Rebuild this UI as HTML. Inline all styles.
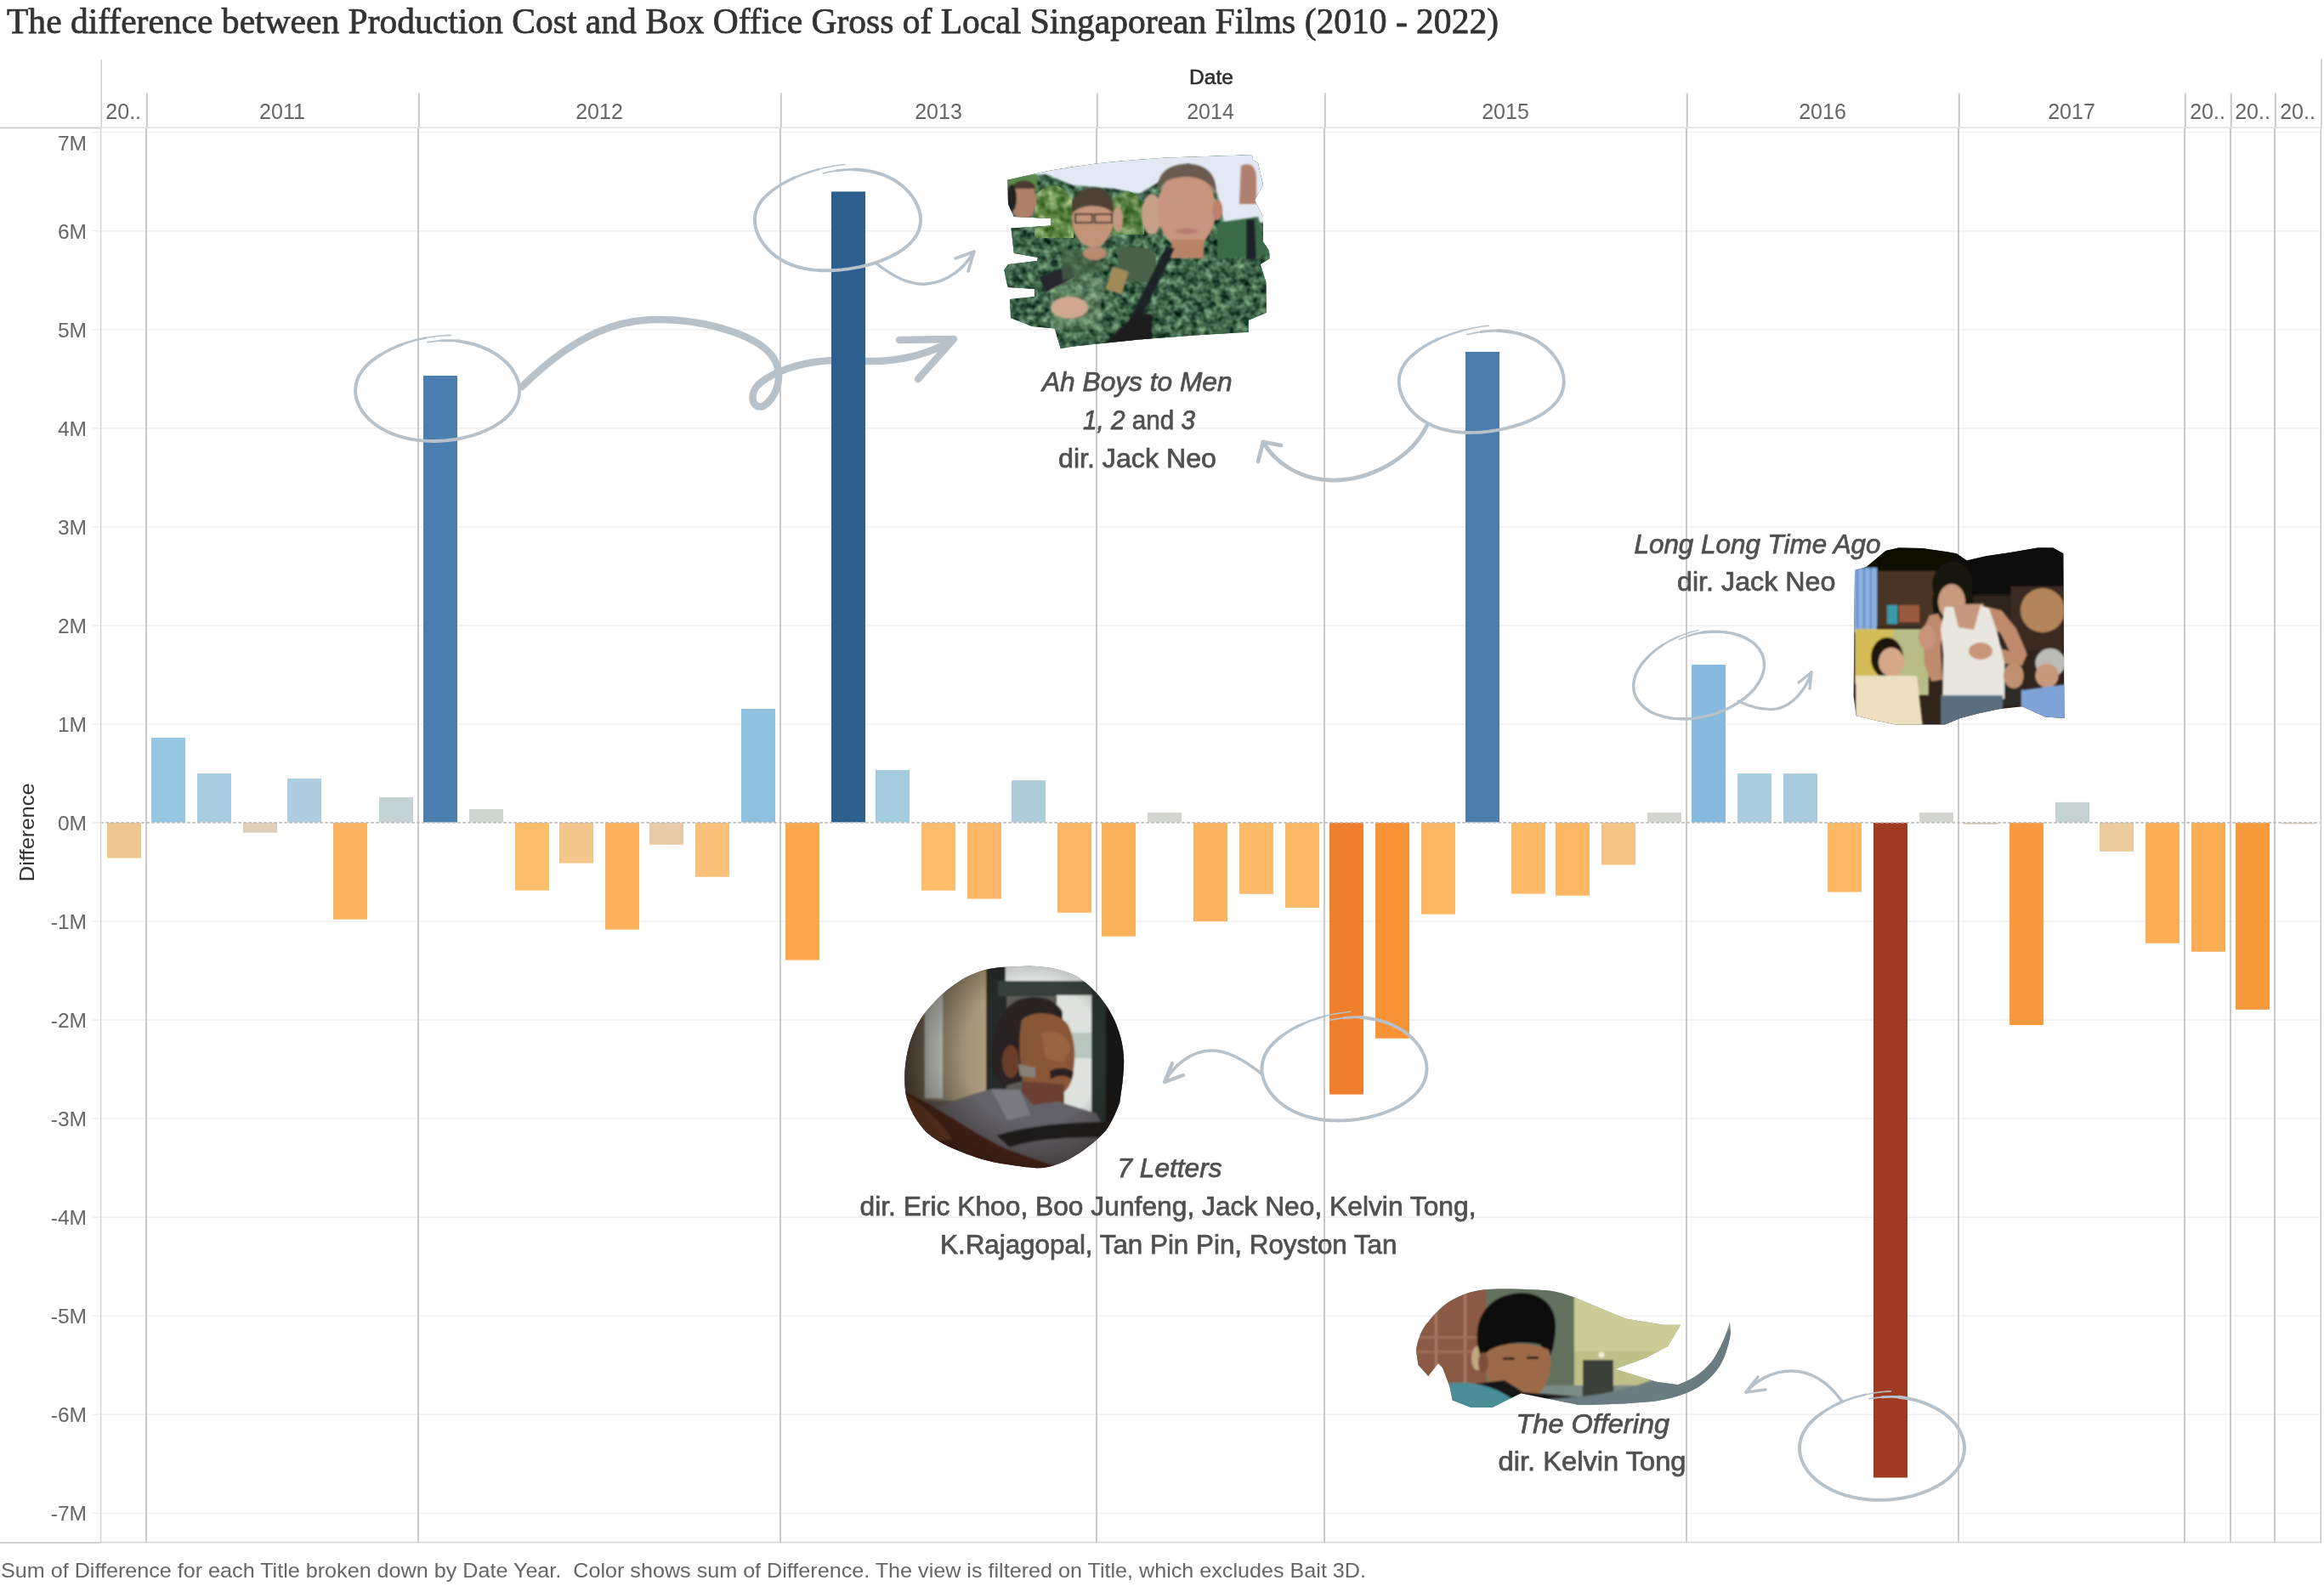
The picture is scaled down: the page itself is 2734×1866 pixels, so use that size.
<!DOCTYPE html>
<html><head><meta charset="utf-8"><title>Singapore films</title>
<style>
html,body{margin:0;padding:0;background:#fff;width:2734px;height:1866px;overflow:hidden}
svg{display:block;will-change:transform}
text{font-family:"Liberation Sans",sans-serif}
.ser{font-family:"Liberation Serif",serif}
</style></head><body>
<svg width="2734" height="1866" viewBox="0 0 2734 1866">
<defs>
<filter id="bl2" x="-10%" y="-10%" width="120%" height="120%"><feGaussianBlur stdDeviation="2"/></filter>
<filter id="bl1" x="-10%" y="-10%" width="120%" height="120%"><feGaussianBlur stdDeviation="1.2"/></filter>
<filter id="bl4" x="-10%" y="-10%" width="120%" height="120%"><feGaussianBlur stdDeviation="4"/></filter>
<filter id="camo" x="0" y="0" width="100%" height="100%" color-interpolation-filters="sRGB">
<feTurbulence type="fractalNoise" baseFrequency="0.11" numOctaves="2" seed="7" result="n"/>
<feColorMatrix in="n" type="matrix" values="0.75 0 0 0 -0.13  0.85 0 0 0 -0.03  0.7 0 0 0 -0.06  0 0 0 0 1"/>
</filter>
<filter id="leaf" x="0" y="0" width="100%" height="100%" color-interpolation-filters="sRGB">
<feTurbulence type="fractalNoise" baseFrequency="0.09" numOctaves="2" seed="3" result="n"/>
<feColorMatrix in="n" type="matrix" values="0.78 0 0 0 0.0  0.68 0 0 0 0.2  0.7 0 0 0 -0.06  0 0 0 0 1"/>
</filter>
<clipPath id="cp1"><path d="M1185.4,211.8 L1217.4,204.4 C1250,197 1300,190 1373,185.6 L1473,182.3 L1474,188 L1480,192 L1486,217.5 L1476,235.6 L1486,255 L1486,284.8 L1492.8,294.6 L1494,304 L1482.7,311 L1489.5,332 L1489.7,368 L1468.7,376.7 L1468.7,390.7 L1406,394.6 L1340,399.5 L1261.6,407.7 L1247.7,410 L1240.7,386.5 L1214,384 L1189,374 L1188,352 L1217,349 L1217,340 L1186,338 L1184.6,334 L1181.3,317.5 L1186,311 L1220,307 L1221,303 L1192.8,298 L1189.5,268.4 L1236.5,265.6 L1236.5,257 L1192.8,255 L1186,240 Z"/></clipPath>
<clipPath id="cp2"><path d="M2182,670.9 L2195.7,667 L2218.4,648 L2233.6,644.4 L2260.8,645.1 L2283.5,648.2 L2301.7,651.2 L2313.8,659.5 L2336.5,654.2 L2366.8,649.7 L2397,644.4 L2415.2,644.4 L2427.3,651.2 L2428.5,845 L2406,843.4 L2378.9,831.3 L2351.6,834.3 L2329,838.9 L2306,845 L2288,852.5 L2260.8,852.5 L2230.5,852.5 L2207.8,848 L2183.6,842 L2180.6,819.2 Z"/></clipPath>
<clipPath id="cp3"><path d="M1210.7,1136.5 C1235,1137 1255,1142 1268,1149.6 C1300,1170 1322,1210 1322.2,1248 C1322,1270 1318,1290 1317.3,1297 C1312,1312 1305,1325 1301,1330 C1290,1342 1280,1350 1268,1357.8 C1252,1368 1235,1375 1219,1374.2 C1200,1373 1185,1370 1169.8,1367.6 C1150,1363 1135,1357 1120.6,1351 C1105,1344 1095,1337 1087.8,1330 C1075,1315 1066,1298 1064.8,1280.7 C1063,1260 1066,1240 1071.4,1223.4 C1078,1205 1086,1193 1096,1182.4 C1110,1167 1125,1156 1137,1149.6 C1152,1142 1165,1139 1178,1138 Z"/></clipPath>
<clipPath id="cp4"><path d="M1665.9,1588.9 C1668,1575 1673,1563 1680.2,1555.3 C1690,1543 1700,1533 1713.7,1526.8 C1727,1520 1740,1517 1755.7,1516.7 C1780,1516 1800,1517 1822.8,1518.4 C1845,1522 1860,1530 1873.2,1535.2 C1890,1542 1903,1548 1915,1552 L1957,1558.7 L1977.2,1558.7 L1962,1583.9 L1937,1597.3 L1900,1610.7 L1948.7,1625.8 L1973.8,1629.2 C1995,1622 2008,1610 2015.8,1599 C2025,1585 2031,1570 2035,1555.3 L2036,1568.8 C2033,1585 2030,1595 2024,1605.7 C2015,1620 2003,1630 1990.6,1635.9 C1975,1643 1960,1647 1940.3,1649.3 C1910,1652 1880,1653 1856.4,1652.7 L1789.2,1639.2 L1755.7,1656 L1730.5,1656 L1708.7,1647.6 L1705.3,1630.9 L1697,1609 L1692,1604 L1680.2,1619 L1668.4,1605.7 Z"/></clipPath>
<clipPath id="tr1"><path d="M1217,232 C1225,220 1240,214 1250,222 C1258,228 1262,235 1263,245 L1263,280 L1217,280 Z"/></clipPath>
<clipPath id="tr2"><path d="M1305,238 C1312,228 1325,222 1335,228 C1345,234 1347,245 1346,255 L1346,276 L1305,276 Z"/></clipPath>
<radialGradient id="vig3" cx="1215" cy="1240" r="150" gradientUnits="userSpaceOnUse"><stop offset="0.55" stop-color="#1e140e" stop-opacity="0"/><stop offset="1" stop-color="#1e140e" stop-opacity="0.55"/></radialGradient>
<linearGradient id="lg3" x1="1062" y1="0" x2="1160" y2="0" gradientUnits="userSpaceOnUse"><stop offset="0" stop-color="#4a4232"/><stop offset="0.35" stop-color="#8a8068"/><stop offset="1" stop-color="#ae9e7e"/></linearGradient>
</defs>
<rect x="0" y="0" width="2734" height="1866" fill="#ffffff"/>
<text class="ser" x="8" y="39.1" font-size="41.6" fill="#333333" stroke="#333333" stroke-width="0.75" textLength="1755" lengthAdjust="spacingAndGlyphs" style="font-family:'Liberation Serif',serif">The difference between Production Cost and Box Office Gross of Local Singaporean Films (2010 - 2022)</text>
<rect x="108" y="1779.60" width="10" height="1.5" fill="#efefef"/><rect x="119.5" y="1779.60" width="2611" height="1.5" fill="#f0f0f0"/>
<rect x="108" y="1663.55" width="10" height="1.5" fill="#efefef"/><rect x="119.5" y="1663.55" width="2611" height="1.5" fill="#f0f0f0"/>
<rect x="108" y="1547.50" width="10" height="1.5" fill="#efefef"/><rect x="119.5" y="1547.50" width="2611" height="1.5" fill="#f0f0f0"/>
<rect x="108" y="1431.45" width="10" height="1.5" fill="#efefef"/><rect x="119.5" y="1431.45" width="2611" height="1.5" fill="#f0f0f0"/>
<rect x="108" y="1315.40" width="10" height="1.5" fill="#efefef"/><rect x="119.5" y="1315.40" width="2611" height="1.5" fill="#f0f0f0"/>
<rect x="108" y="1199.35" width="10" height="1.5" fill="#efefef"/><rect x="119.5" y="1199.35" width="2611" height="1.5" fill="#f0f0f0"/>
<rect x="108" y="1083.30" width="10" height="1.5" fill="#efefef"/><rect x="119.5" y="1083.30" width="2611" height="1.5" fill="#f0f0f0"/>
<rect x="108" y="851.20" width="10" height="1.5" fill="#efefef"/><rect x="119.5" y="851.20" width="2611" height="1.5" fill="#f0f0f0"/>
<rect x="108" y="735.15" width="10" height="1.5" fill="#efefef"/><rect x="119.5" y="735.15" width="2611" height="1.5" fill="#f0f0f0"/>
<rect x="108" y="619.10" width="10" height="1.5" fill="#efefef"/><rect x="119.5" y="619.10" width="2611" height="1.5" fill="#f0f0f0"/>
<rect x="108" y="503.05" width="10" height="1.5" fill="#efefef"/><rect x="119.5" y="503.05" width="2611" height="1.5" fill="#f0f0f0"/>
<rect x="108" y="387.00" width="10" height="1.5" fill="#efefef"/><rect x="119.5" y="387.00" width="2611" height="1.5" fill="#f0f0f0"/>
<rect x="108" y="270.95" width="10" height="1.5" fill="#efefef"/><rect x="119.5" y="270.95" width="2611" height="1.5" fill="#f0f0f0"/>
<rect x="108" y="154.90" width="10" height="1.5" fill="#efefef"/><rect x="119.5" y="154.90" width="2611" height="1.5" fill="#f0f0f0"/>
<rect x="108" y="967.25" width="10" height="1.5" fill="#ebebeb"/>
<rect x="171" y="150.5" width="2" height="1665" fill="#c9c9c9"/><rect x="171.8" y="109.5" width="2" height="41" fill="#c9c9c9"/><rect x="491" y="150.5" width="2" height="1665" fill="#c9c9c9"/><rect x="491.8" y="109.5" width="2" height="41" fill="#c9c9c9"/><rect x="917" y="150.5" width="2" height="1665" fill="#c9c9c9"/><rect x="917.8" y="109.5" width="2" height="41" fill="#c9c9c9"/><rect x="1289" y="150.5" width="2" height="1665" fill="#c9c9c9"/><rect x="1289.8" y="109.5" width="2" height="41" fill="#c9c9c9"/><rect x="1557" y="150.5" width="2" height="1665" fill="#c9c9c9"/><rect x="1557.8" y="109.5" width="2" height="41" fill="#c9c9c9"/><rect x="1983" y="150.5" width="2" height="1665" fill="#c9c9c9"/><rect x="1983.8" y="109.5" width="2" height="41" fill="#c9c9c9"/><rect x="2303" y="150.5" width="2" height="1665" fill="#c9c9c9"/><rect x="2303.8" y="109.5" width="2" height="41" fill="#c9c9c9"/><rect x="2569" y="150.5" width="2" height="1665" fill="#c9c9c9"/><rect x="2569.8" y="109.5" width="2" height="41" fill="#c9c9c9"/><rect x="2623" y="150.5" width="2" height="1665" fill="#c9c9c9"/><rect x="2623.8" y="109.5" width="2" height="41" fill="#c9c9c9"/><rect x="2675" y="150.5" width="2" height="1665" fill="#c9c9c9"/><rect x="2675.8" y="109.5" width="2" height="41" fill="#c9c9c9"/>
<rect x="118" y="150.5" width="1.2" height="1665" fill="#cbcbcb"/><rect x="118.6" y="70" width="1.3" height="81" fill="#cbcbcb"/>
<rect x="2729.5" y="150.5" width="1.6" height="1665" fill="#c9c9c9"/><rect x="2730.2" y="69.5" width="1.6" height="81" fill="#c9c9c9"/>
<rect x="0" y="149.6" width="118.5" height="1.8" fill="#cccccc"/><rect x="118.5" y="149.4" width="2612" height="1.6" fill="#e0e0e0"/>
<rect x="0" y="1814.2" width="118.5" height="1.8" fill="#cccccc"/><rect x="118.5" y="1813.8" width="2612" height="1.6" fill="#d6d6d6"/>
<g fill="none" stroke="#b6c1ca" stroke-linecap="round" stroke-linejoin="round"><path d="M 614 455 C 680 390, 730 376, 773 376 C 830 376, 900 395, 913 427 C 922 450, 910 470, 898 478 C 884 482, 880 462, 895 450 C 910 438, 940 426, 978 424 L 1019 425 C 1060 426, 1095 415, 1120 401" stroke-width="8.5"/><path d="M 1058 400 L 1122 399 L 1080 446" stroke-width="8.5"/></g>
<rect x="126" y="968.0" width="40" height="41.6" fill="#efc891"/><rect x="178" y="867.9" width="40" height="99.6" fill="#96c6e0"/><rect x="232" y="910.0" width="40" height="57.5" fill="#a8ccdf"/><rect x="286" y="968.0" width="40" height="11.7" fill="#dfcfb9"/><rect x="338" y="915.9" width="40" height="51.6" fill="#aecde0"/><rect x="392" y="968.0" width="40" height="113.7" fill="#fbb35f"/><rect x="446" y="938.1" width="40" height="29.4" fill="#c5d3d6"/><rect x="498" y="442.0" width="40" height="525.5" fill="#4a7eae"/><rect x="552" y="952.0" width="40" height="15.5" fill="#ced4d0"/><rect x="606" y="968.0" width="40" height="79.6" fill="#fdbe6c"/><rect x="658" y="968.0" width="40" height="47.6" fill="#f3c78c"/><rect x="712" y="968.0" width="40" height="125.7" fill="#fdb15d"/><rect x="764" y="968.0" width="40" height="25.8" fill="#e8cba6"/><rect x="818" y="968.0" width="40" height="63.7" fill="#fbc07a"/><rect x="872" y="834.0" width="40" height="133.5" fill="#8fc1df"/><rect x="924" y="968.0" width="40" height="161.6" fill="#fca94d"/><rect x="978" y="225.4" width="40" height="742.1" fill="#2c5f8e"/><rect x="1030" y="906.0" width="40" height="61.5" fill="#a5cbdf"/><rect x="1084" y="968.0" width="40" height="79.7" fill="#fdbd6d"/><rect x="1138" y="968.0" width="40" height="89.5" fill="#fdb969"/><rect x="1190" y="918.1" width="40" height="49.4" fill="#adcddb"/><rect x="1244" y="968.0" width="40" height="105.8" fill="#fcb563"/><rect x="1296" y="968.0" width="40" height="133.7" fill="#fbb05a"/><rect x="1350" y="956.1" width="40" height="11.4" fill="#d3d6d0"/><rect x="1404" y="968.0" width="40" height="115.9" fill="#fcb35f"/><rect x="1458" y="968.0" width="40" height="83.8" fill="#fdbb6a"/><rect x="1512" y="968.0" width="40" height="99.9" fill="#fdb866"/><rect x="1564" y="968.0" width="40" height="319.6" fill="#ef7f2c"/><rect x="1618" y="968.0" width="40" height="253.7" fill="#f79336"/><rect x="1672" y="968.0" width="40" height="107.6" fill="#fdb662"/><rect x="1724" y="413.9" width="40" height="553.6" fill="#4a7cac"/><rect x="1778" y="968.0" width="40" height="83.6" fill="#fdbb69"/><rect x="1830" y="968.0" width="40" height="85.7" fill="#fdb866"/><rect x="1884" y="968.0" width="40" height="49.5" fill="#f4c386"/><rect x="1938" y="956.1" width="40" height="11.4" fill="#d2d4cf"/><rect x="1990" y="782.0" width="40" height="185.5" fill="#85b9de"/><rect x="2044" y="910.1" width="40" height="57.4" fill="#a9ccdf"/><rect x="2098" y="910.1" width="40" height="57.4" fill="#a8cadd"/><rect x="2150" y="968.0" width="40" height="81.5" fill="#fdb966"/><rect x="2204" y="968.0" width="40" height="770.5" fill="#9e3b22"/><rect x="2258" y="956.1" width="40" height="11.4" fill="#d2d4cf"/><rect x="2310" y="968.0" width="40" height="2.0" fill="#d9cfbf"/><rect x="2364" y="968.0" width="40" height="238.0" fill="#f7993c"/><rect x="2418" y="943.9" width="40" height="23.6" fill="#c5d2d2"/><rect x="2470" y="968.0" width="40" height="33.8" fill="#ebca9b"/><rect x="2524" y="968.0" width="40" height="141.8" fill="#fbae55"/><rect x="2578" y="968.0" width="40" height="151.7" fill="#fbad54"/><rect x="2630" y="968.0" width="40" height="219.8" fill="#f79a3c"/><rect x="2684" y="968.0" width="40" height="1.5" fill="#d8cfc0"/>
<line x1="119.5" y1="967.8" x2="2729" y2="967.8" stroke="#bdbdbd" stroke-width="1.8" stroke-dasharray="3.6 2.4" stroke-dashoffset="1.2"/>
<text x="145.2" y="139.5" font-size="25" fill="#666666" text-anchor="middle">20..</text><text x="332.0" y="139.5" font-size="25" fill="#666666" text-anchor="middle">2011</text><text x="705.0" y="139.5" font-size="25" fill="#666666" text-anchor="middle">2012</text><text x="1104.0" y="139.5" font-size="25" fill="#666666" text-anchor="middle">2013</text><text x="1424.0" y="139.5" font-size="25" fill="#666666" text-anchor="middle">2014</text><text x="1771.0" y="139.5" font-size="25" fill="#666666" text-anchor="middle">2015</text><text x="2144.0" y="139.5" font-size="25" fill="#666666" text-anchor="middle">2016</text><text x="2437.0" y="139.5" font-size="25" fill="#666666" text-anchor="middle">2017</text><text x="2597.0" y="139.5" font-size="25" fill="#666666" text-anchor="middle">20..</text><text x="2650.0" y="139.5" font-size="25" fill="#666666" text-anchor="middle">20..</text><text x="2703.0" y="139.5" font-size="25" fill="#666666" text-anchor="middle">20..</text>
<text x="1425" y="99.4" font-size="24.5" fill="#2e2e2e" stroke="#2e2e2e" stroke-width="0.6" text-anchor="middle">Date</text>
<text x="102" y="1789.1" font-size="24.5" fill="#666666" text-anchor="end">-7M</text><text x="102" y="1673.1" font-size="24.5" fill="#666666" text-anchor="end">-6M</text><text x="102" y="1557.0" font-size="24.5" fill="#666666" text-anchor="end">-5M</text><text x="102" y="1441.0" font-size="24.5" fill="#666666" text-anchor="end">-4M</text><text x="102" y="1325.0" font-size="24.5" fill="#666666" text-anchor="end">-3M</text><text x="102" y="1208.9" font-size="24.5" fill="#666666" text-anchor="end">-2M</text><text x="102" y="1092.8" font-size="24.5" fill="#666666" text-anchor="end">-1M</text><text x="102" y="976.8" font-size="24.5" fill="#666666" text-anchor="end">0M</text><text x="102" y="860.8" font-size="24.5" fill="#666666" text-anchor="end">1M</text><text x="102" y="744.7" font-size="24.5" fill="#666666" text-anchor="end">2M</text><text x="102" y="628.6" font-size="24.5" fill="#666666" text-anchor="end">3M</text><text x="102" y="512.6" font-size="24.5" fill="#666666" text-anchor="end">4M</text><text x="102" y="396.6" font-size="24.5" fill="#666666" text-anchor="end">5M</text><text x="102" y="280.5" font-size="24.5" fill="#666666" text-anchor="end">6M</text><text x="102" y="177.4" font-size="24.5" fill="#666666" text-anchor="end">7M</text>
<text transform="translate(40.3,979.2) rotate(-90)" x="-58" y="0" font-size="24.5" fill="#333333" textLength="116" lengthAdjust="spacingAndGlyphs">Difference</text>
<text x="1" y="1856.3" font-size="24.3" fill="#666666" textLength="1606" lengthAdjust="spacingAndGlyphs" xml:space="preserve">Sum of Difference for each Title broken down by Date Year.  Color shows sum of Difference. The view is filtered on Title, which excludes Bait 3D.</text>
<polyline points="502.9,402.7 506.7,402.1 510.6,401.6 514.5,401.2 518.4,400.9" fill="none" stroke="#b6c1ca" stroke-width="1.755" stroke-linecap="round" stroke-linejoin="round"/><polyline points="518.4,400.9 522.3,400.8 526.2,400.7 530.1,400.7 533.9,400.8 537.8,401.1" fill="none" stroke="#b6c1ca" stroke-width="2.925" stroke-linecap="round" stroke-linejoin="round"/><polyline points="537.8,401.1 541.5,401.6 545.2,402.3 548.8,403.0 552.4,403.8 555.9,404.7 559.3,405.7 562.6,406.8 565.9,407.9 569.0,409.2 572.1,410.6 575.1,412.0 578.0,413.5 580.8,415.1 583.5,416.7 586.0,418.5 588.5,420.3 590.9,422.1 593.1,424.1 595.3,426.1 597.3,428.1 599.2,430.2 600.9,432.3 602.6,434.5 604.1,436.8 605.4,439.1 606.6,441.4 607.7,443.7 608.7,446.1 609.5,448.5 610.1,450.9 610.6,453.3 610.9,455.7 611.1,458.2 611.1,460.6 610.9,463.0 610.6,465.5 610.1,467.9 609.5,470.3 608.7,472.7 607.7,475.1 606.5,477.4 605.2,479.7 603.7,482.0 602.0,484.2 600.2,486.4 598.2,488.6 596.1,490.7 593.8,492.7 591.4,494.7 588.8,496.7 586.1,498.5 583.2,500.3 580.3,502.1 577.2,503.8 573.9,505.3 570.6,506.9 567.2,508.3 563.7,509.7 560.1,510.9 556.4,512.1 552.6,513.2 548.8,514.2 545.0,515.1 541.1,515.9 537.1,516.7 533.2,517.3 529.2,517.8 525.2,518.3 521.2,518.6 517.2,518.8 513.2,519.0 509.3,519.0 505.3,518.9 501.4,518.8 497.5,518.5 493.7,518.1 489.9,517.7 486.2,517.1 482.5,516.5 478.9,515.7 475.4,514.9 471.9,513.9 468.6,512.9 465.3,511.8 462.0,510.6 458.9,509.3 455.9,507.9 452.9,506.4 450.1,504.9 447.3,503.3 444.7,501.6 442.1,499.8 439.7,498.0 437.4,496.1 435.2,494.1 433.1,492.1 431.2,490.1 429.3,487.9 427.6,485.8 426.0,483.6 424.6,481.3 423.3,479.0 422.1,476.7 421.1,474.3 420.2,472.0 419.5,469.6 418.9,467.2 418.5,464.7 418.2,462.3 418.1,459.9 418.2,457.4 418.4,455.0 418.8,452.6 419.3,450.1 420.0,447.7 420.9,445.4 422.0,443.0 423.2,440.7 424.6,438.4 426.2,436.1 427.9,433.9 429.8,431.7 431.8,429.6 434.0,427.5 436.3,425.5 438.8,423.5 441.5,421.6 444.2,419.7 447.1,417.9" fill="none" stroke="#b6c1ca" stroke-width="3.9" stroke-linecap="round" stroke-linejoin="round"/><polyline points="447.1,417.9 450.0,416.1 453.0,414.3 456.1,412.7 459.3,411.0 462.7,409.4 466.1,407.9 469.6,406.5 473.2,405.1" fill="none" stroke="#b6c1ca" stroke-width="3.315" stroke-linecap="round" stroke-linejoin="round"/><polyline points="473.2,405.1 476.9,403.8 480.7,402.5 484.5,401.4 488.5,400.3 492.4,399.3 496.5,398.4 500.6,397.6" fill="none" stroke="#b6c1ca" stroke-width="2.535" stroke-linecap="round" stroke-linejoin="round"/><polyline points="500.6,397.6 504.8,396.8 508.9,396.2 513.2,395.6 517.4,395.2 521.7,394.8 526.0,394.6 530.4,394.4" fill="none" stroke="#b6c1ca" stroke-width="1.56" stroke-linecap="round" stroke-linejoin="round"/><polyline points="968.4,203.8 972.5,202.9 976.5,202.1 980.6,201.4 984.6,200.8" fill="none" stroke="#b6c1ca" stroke-width="1.755" stroke-linecap="round" stroke-linejoin="round"/><polyline points="984.6,200.8 988.7,200.3 992.7,199.9 996.7,199.6 1000.7,199.4 1004.6,199.4" fill="none" stroke="#b6c1ca" stroke-width="2.925" stroke-linecap="round" stroke-linejoin="round"/><polyline points="1004.6,199.4 1008.5,199.6 1012.2,199.9 1015.9,200.3 1019.5,200.8 1023.0,201.4 1026.4,202.1 1029.7,202.9 1032.9,203.8 1036.0,204.7 1039.1,205.8 1042.0,207.0 1044.8,208.2 1047.6,209.5 1050.2,210.9 1052.7,212.4 1055.2,214.0 1057.5,215.6 1059.8,217.3 1062.0,219.1 1064.1,220.9 1066.1,222.8 1068.0,224.8 1069.8,226.8 1071.5,228.9 1073.1,231.0 1074.6,233.2 1076.0,235.4 1077.2,237.7 1078.4,240.0 1079.5,242.3 1080.4,244.7 1081.2,247.0 1081.8,249.4 1082.4,251.8 1082.7,254.3 1082.9,256.7 1083.0,259.1 1082.9,261.6 1082.6,264.0 1082.2,266.4 1081.5,268.8 1080.7,271.2 1079.7,273.6 1078.6,275.9 1077.2,278.2 1075.6,280.5 1073.9,282.8 1071.9,285.0 1069.8,287.1 1067.5,289.2 1065.0,291.3 1062.3,293.3 1059.5,295.3 1056.5,297.2 1053.3,299.0 1050.0,300.8 1046.6,302.4 1043.0,304.1 1039.3,305.6 1035.5,307.1 1031.6,308.5 1027.6,309.8 1023.6,311.0 1019.5,312.1 1015.3,313.1 1011.1,314.1 1006.9,314.9 1002.6,315.7 998.4,316.4 994.1,316.9 989.9,317.4 985.7,317.8 981.6,318.0 977.5,318.2 973.5,318.3 969.5,318.3 965.6,318.2 961.8,317.9 958.0,317.6 954.4,317.2 950.8,316.7 947.3,316.1 943.9,315.3 940.6,314.5 937.4,313.6 934.3,312.7 931.3,311.6 928.4,310.4 925.6,309.2 922.9,307.8 920.3,306.4 917.8,304.9 915.3,303.3 913.0,301.7 910.7,299.9 908.6,298.2 906.5,296.3 904.5,294.4 902.7,292.4 900.9,290.4 899.2,288.3 897.6,286.1 896.1,283.9 894.8,281.7 893.5,279.5 892.4,277.2 891.3,274.8 890.4,272.5 889.7,270.1 889.1,267.7 888.6,265.3 888.2,262.9 888.0,260.4 888.0,258.0 888.1,255.6 888.5,253.1 888.9,250.7 889.6,248.3 890.4,245.9 891.5,243.6 892.7,241.2 894.1,238.9 895.7,236.6 897.5,234.4 899.5,232.2 901.6,230.0 904.0,227.9 906.5,225.9 909.1,223.8" fill="none" stroke="#b6c1ca" stroke-width="3.9" stroke-linecap="round" stroke-linejoin="round"/><polyline points="909.1,223.8 911.8,221.8 914.7,219.8 917.7,217.9 920.9,216.0 924.2,214.2 927.6,212.4 931.1,210.7 934.8,209.0" fill="none" stroke="#b6c1ca" stroke-width="3.315" stroke-linecap="round" stroke-linejoin="round"/><polyline points="934.8,209.0 938.6,207.4 942.5,205.9 946.5,204.4 950.5,203.0 954.7,201.6 958.9,200.4 963.1,199.2" fill="none" stroke="#b6c1ca" stroke-width="2.535" stroke-linecap="round" stroke-linejoin="round"/><polyline points="963.1,199.2 967.4,198.1 971.8,197.1 976.2,196.2 980.6,195.3 985.0,194.6 989.4,194.0 993.9,193.4" fill="none" stroke="#b6c1ca" stroke-width="1.56" stroke-linecap="round" stroke-linejoin="round"/><polyline points="1726.0,393.5 1730.0,392.6 1734.0,391.8 1738.1,391.1 1742.1,390.5" fill="none" stroke="#b6c1ca" stroke-width="1.755" stroke-linecap="round" stroke-linejoin="round"/><polyline points="1742.1,390.5 1746.2,390.0 1750.2,389.6 1754.2,389.3 1758.1,389.1 1762.0,389.1" fill="none" stroke="#b6c1ca" stroke-width="2.925" stroke-linecap="round" stroke-linejoin="round"/><polyline points="1762.0,389.1 1765.8,389.3 1769.6,389.6 1773.2,390.0 1776.8,390.5 1780.3,391.1 1783.6,391.8 1786.9,392.6 1790.1,393.5 1793.2,394.5 1796.2,395.6 1799.1,396.7 1801.9,398.0 1804.6,399.3 1807.3,400.7 1809.8,402.2 1812.2,403.8 1814.5,405.4 1816.8,407.2 1819.0,408.9 1821.0,410.8 1823.0,412.7 1824.9,414.7 1826.7,416.8 1828.3,418.9 1829.9,421.0 1831.4,423.2 1832.8,425.4 1834.1,427.7 1835.2,430.0 1836.3,432.4 1837.2,434.7 1838.0,437.1 1838.6,439.5 1839.2,442.0 1839.5,444.4 1839.7,446.9 1839.8,449.3 1839.7,451.8 1839.4,454.2 1839.0,456.7 1838.4,459.1 1837.5,461.5 1836.6,463.9 1835.4,466.3 1834.0,468.6 1832.5,470.9 1830.7,473.2 1828.8,475.4 1826.7,477.6 1824.4,479.7 1821.9,481.8 1819.2,483.8 1816.4,485.8 1813.4,487.7 1810.2,489.5 1806.9,491.3 1803.5,493.0 1799.9,494.6 1796.3,496.2 1792.5,497.7 1788.6,499.1 1784.6,500.4 1780.6,501.6 1776.5,502.7 1772.3,503.8 1768.1,504.7 1763.9,505.6 1759.7,506.4 1755.4,507.0 1751.2,507.6 1747.0,508.1 1742.9,508.5 1738.8,508.7 1734.7,508.9 1730.7,509.0 1726.7,509.0 1722.8,508.8 1719.0,508.6 1715.3,508.3 1711.7,507.9 1708.1,507.4 1704.7,506.7 1701.3,506.0 1698.0,505.2 1694.9,504.3 1691.8,503.3 1688.8,502.2 1685.9,501.0 1683.1,499.8 1680.4,498.4 1677.8,497.0 1675.3,495.5 1672.9,493.9 1670.6,492.2 1668.4,490.5 1666.2,488.7 1664.2,486.8 1662.2,484.9 1660.4,482.9 1658.6,480.8 1656.9,478.7 1655.4,476.6 1653.9,474.4 1652.5,472.1 1651.3,469.8 1650.1,467.5 1649.1,465.2 1648.2,462.8 1647.5,460.4 1646.8,458.0 1646.4,455.5 1646.0,453.1 1645.8,450.6 1645.8,448.2 1645.9,445.7 1646.3,443.3 1646.7,440.8 1647.4,438.4 1648.2,436.0 1649.3,433.6 1650.5,431.3 1651.9,428.9 1653.5,426.6 1655.2,424.4 1657.2,422.2 1659.4,420.0 1661.7,417.9 1664.2,415.8 1666.8,413.7" fill="none" stroke="#b6c1ca" stroke-width="3.9" stroke-linecap="round" stroke-linejoin="round"/><polyline points="1666.8,413.7 1669.5,411.7 1672.4,409.7 1675.4,407.8 1678.6,405.9 1681.8,404.0 1685.3,402.2 1688.8,400.5 1692.5,398.8" fill="none" stroke="#b6c1ca" stroke-width="3.315" stroke-linecap="round" stroke-linejoin="round"/><polyline points="1692.5,398.8 1696.2,397.2 1700.1,395.6 1704.1,394.1 1708.1,392.7 1712.3,391.4 1716.4,390.1 1720.7,388.9" fill="none" stroke="#b6c1ca" stroke-width="2.535" stroke-linecap="round" stroke-linejoin="round"/><polyline points="1720.7,388.9 1725.0,387.8 1729.3,386.8 1733.7,385.8 1738.1,385.0 1742.5,384.3 1746.9,383.6 1751.3,383.1" fill="none" stroke="#b6c1ca" stroke-width="1.56" stroke-linecap="round" stroke-linejoin="round"/><polyline points="1975.3,752.4 1978.1,751.2 1981.1,750.1 1984.0,749.0 1987.0,748.0" fill="none" stroke="#b6c1ca" stroke-width="1.53" stroke-linecap="round" stroke-linejoin="round"/><polyline points="1987.0,748.0 1990.1,747.0 1993.2,746.1 1996.3,745.4 1999.5,744.7 2002.7,744.1" fill="none" stroke="#b6c1ca" stroke-width="2.55" stroke-linecap="round" stroke-linejoin="round"/><polyline points="2002.7,744.1 2005.8,743.8 2009.0,743.5 2012.1,743.3 2015.2,743.2 2018.3,743.2 2021.3,743.2 2024.3,743.4 2027.3,743.6 2030.2,744.0 2033.1,744.4 2035.9,744.9 2038.6,745.5 2041.3,746.2 2043.9,746.9 2046.4,747.7 2048.9,748.7 2051.2,749.6 2053.5,750.7 2055.6,751.9 2057.7,753.1 2059.7,754.4 2061.6,755.7 2063.3,757.1 2065.0,758.6 2066.5,760.1 2068.0,761.8 2069.3,763.4 2070.4,765.1 2071.5,766.9 2072.5,768.7 2073.3,770.5 2074.0,772.4 2074.5,774.4 2074.9,776.3 2075.3,778.3 2075.4,780.3 2075.5,782.4 2075.4,784.4 2075.2,786.5 2074.8,788.6 2074.3,790.7 2073.7,792.9 2073.0,795.0 2072.1,797.1 2071.1,799.2 2070.0,801.3 2068.8,803.4 2067.4,805.5 2066.0,807.5 2064.4,809.6 2062.7,811.6 2060.9,813.5 2059.0,815.5 2057.0,817.4 2054.8,819.3 2052.6,821.1 2050.3,822.9 2048.0,824.6 2045.5,826.3 2042.9,828.0 2040.3,829.5 2037.6,831.1 2034.8,832.5 2032.0,833.9 2029.1,835.2 2026.2,836.5 2023.2,837.7 2020.2,838.8 2017.1,839.8 2014.1,840.8 2010.9,841.6 2007.8,842.4 2004.6,843.1 2001.5,843.8 1998.3,844.3 1995.1,844.8 1992.0,845.2 1988.8,845.5 1985.7,845.7 1982.6,845.8 1979.5,845.8 1976.4,845.8 1973.4,845.6 1970.5,845.4 1967.5,845.1 1964.7,844.7 1961.8,844.2 1959.1,843.6 1956.4,843.0 1953.8,842.2 1951.3,841.4 1948.8,840.5 1946.4,839.5 1944.1,838.5 1942.0,837.4 1939.9,836.2 1937.9,834.9 1936.0,833.6 1934.2,832.2 1932.5,830.7 1931.0,829.1 1929.5,827.6 1928.2,825.9 1927.0,824.2 1925.9,822.5 1924.9,820.7 1924.1,818.8 1923.4,816.9 1922.8,815.0 1922.3,813.1 1922.0,811.1 1921.8,809.1 1921.7,807.0 1921.8,804.9 1922.0,802.9 1922.3,800.8 1922.8,798.7 1923.4,796.6 1924.1,794.4 1924.9,792.3 1925.9,790.2 1927.0,788.1 1928.2,786.0 1929.5,783.9 1930.9,781.9 1932.5,779.8 1934.2,777.8 1936.0,775.8 1937.8,773.9" fill="none" stroke="#b6c1ca" stroke-width="3.4" stroke-linecap="round" stroke-linejoin="round"/><polyline points="1937.8,773.9 1939.7,771.9 1941.7,770.0 1943.8,768.1 1946.0,766.2 1948.3,764.4 1950.7,762.6 1953.1,760.9 1955.6,759.1" fill="none" stroke="#b6c1ca" stroke-width="2.8899999999999997" stroke-linecap="round" stroke-linejoin="round"/><polyline points="1955.6,759.1 1958.3,757.5 1961.0,755.9 1963.7,754.3 1966.6,752.8 1969.5,751.4 1972.5,750.0 1975.5,748.6" fill="none" stroke="#b6c1ca" stroke-width="2.21" stroke-linecap="round" stroke-linejoin="round"/><polyline points="1975.5,748.6 1978.6,747.4 1981.8,746.2 1985.0,745.0 1988.2,744.0 1991.6,743.0 1994.9,742.1 1998.3,741.3" fill="none" stroke="#b6c1ca" stroke-width="1.36" stroke-linecap="round" stroke-linejoin="round"/><polyline points="1565.4,1200.1 1569.3,1199.3 1573.2,1198.7 1577.1,1198.1 1581.0,1197.7" fill="none" stroke="#b6c1ca" stroke-width="1.755" stroke-linecap="round" stroke-linejoin="round"/><polyline points="1581.0,1197.7 1584.9,1197.3 1588.9,1197.0 1592.8,1196.9 1596.7,1196.8 1600.5,1197.0" fill="none" stroke="#b6c1ca" stroke-width="2.925" stroke-linecap="round" stroke-linejoin="round"/><polyline points="1600.5,1197.0 1604.3,1197.3 1608.1,1197.8 1611.7,1198.3 1615.3,1199.0 1618.9,1199.7 1622.3,1200.6 1625.7,1201.5 1629.0,1202.6 1632.2,1203.7 1635.3,1204.9 1638.3,1206.2 1641.3,1207.6 1644.1,1209.1 1646.9,1210.6 1649.5,1212.2 1652.1,1213.9 1654.5,1215.7 1656.9,1217.6 1659.1,1219.5 1661.3,1221.5 1663.3,1223.5 1665.2,1225.6 1667.0,1227.7 1668.7,1229.9 1670.3,1232.2 1671.7,1234.5 1673.0,1236.8 1674.2,1239.1 1675.2,1241.5 1676.2,1243.9 1676.9,1246.4 1677.5,1248.8 1678.0,1251.3 1678.3,1253.8 1678.5,1256.3 1678.5,1258.8 1678.3,1261.3 1678.0,1263.7 1677.5,1266.2 1676.8,1268.7 1676.0,1271.1 1675.0,1273.5 1673.8,1275.9 1672.4,1278.3 1670.9,1280.6 1669.2,1282.9 1667.3,1285.1 1665.3,1287.3 1663.1,1289.4 1660.7,1291.5 1658.2,1293.6 1655.5,1295.5 1652.7,1297.5 1649.8,1299.3 1646.7,1301.1 1643.5,1302.8 1640.2,1304.4 1636.7,1306.0 1633.2,1307.4 1629.6,1308.8 1625.8,1310.1 1622.1,1311.3 1618.2,1312.5 1614.3,1313.5 1610.3,1314.4 1606.4,1315.3 1602.3,1316.0 1598.3,1316.7 1594.3,1317.2 1590.2,1317.7 1586.2,1318.0 1582.1,1318.3 1578.1,1318.4 1574.2,1318.5 1570.2,1318.4 1566.3,1318.3 1562.5,1318.0 1558.7,1317.7 1555.0,1317.2 1551.3,1316.7 1547.7,1316.0 1544.2,1315.3 1540.7,1314.4 1537.3,1313.5 1534.0,1312.5 1530.8,1311.3 1527.7,1310.1 1524.7,1308.8 1521.7,1307.4 1518.9,1306.0 1516.1,1304.4 1513.5,1302.8 1510.9,1301.1 1508.5,1299.3 1506.1,1297.4 1503.9,1295.5 1501.7,1293.5 1499.7,1291.5 1497.8,1289.4 1496.0,1287.3 1494.3,1285.1 1492.7,1282.8 1491.3,1280.5 1490.0,1278.2 1488.8,1275.9 1487.8,1273.5 1486.8,1271.1 1486.1,1268.6 1485.5,1266.2 1485.0,1263.7 1484.7,1261.2 1484.5,1258.7 1484.5,1256.2 1484.7,1253.8 1485.0,1251.3 1485.5,1248.8 1486.2,1246.4 1487.0,1243.9 1488.0,1241.5 1489.2,1239.1 1490.6,1236.8 1492.1,1234.4 1493.8,1232.2 1495.7,1229.9 1497.7,1227.7 1499.9,1225.6 1502.3,1223.5 1504.7,1221.4 1507.3,1219.4" fill="none" stroke="#b6c1ca" stroke-width="3.9" stroke-linecap="round" stroke-linejoin="round"/><polyline points="1507.3,1219.4 1510.0,1217.4 1512.8,1215.5 1515.7,1213.6 1518.8,1211.7 1521.9,1209.9 1525.2,1208.2 1528.6,1206.5 1532.1,1204.9" fill="none" stroke="#b6c1ca" stroke-width="3.315" stroke-linecap="round" stroke-linejoin="round"/><polyline points="1532.1,1204.9 1535.7,1203.3 1539.4,1201.8 1543.1,1200.4 1547.0,1199.1 1550.9,1197.8 1555.0,1196.6 1559.0,1195.5" fill="none" stroke="#b6c1ca" stroke-width="2.535" stroke-linecap="round" stroke-linejoin="round"/><polyline points="1559.0,1195.5 1563.2,1194.5 1567.4,1193.6 1571.6,1192.8 1575.8,1192.0 1580.1,1191.4 1584.5,1190.8 1588.8,1190.4" fill="none" stroke="#b6c1ca" stroke-width="1.56" stroke-linecap="round" stroke-linejoin="round"/><polyline points="2198.9,1645.7 2202.7,1645.1 2206.6,1644.6 2210.4,1644.1 2214.3,1643.8" fill="none" stroke="#b6c1ca" stroke-width="1.755" stroke-linecap="round" stroke-linejoin="round"/><polyline points="2214.3,1643.8 2218.3,1643.6 2222.2,1643.4 2226.1,1643.4 2230.0,1643.5 2233.9,1643.7" fill="none" stroke="#b6c1ca" stroke-width="2.925" stroke-linecap="round" stroke-linejoin="round"/><polyline points="2233.9,1643.7 2237.7,1644.2 2241.5,1644.8 2245.2,1645.5 2248.9,1646.3 2252.5,1647.2 2256.0,1648.1 2259.5,1649.2 2262.8,1650.4 2266.1,1651.6 2269.3,1653.0 2272.5,1654.4 2275.5,1655.9 2278.4,1657.5 2281.2,1659.1 2284.0,1660.9 2286.6,1662.7 2289.1,1664.5 2291.4,1666.5 2293.7,1668.5 2295.8,1670.5 2297.8,1672.7 2299.7,1674.8 2301.4,1677.1 2303.0,1679.3 2304.5,1681.6 2305.8,1684.0 2307.0,1686.3 2308.0,1688.8 2308.9,1691.2 2309.7,1693.6 2310.2,1696.1 2310.6,1698.6 2310.9,1701.1 2311.0,1703.6 2310.9,1706.1 2310.7,1708.6 2310.3,1711.0 2309.8,1713.5 2309.0,1716.0 2308.1,1718.4 2307.1,1720.8 2305.9,1723.2 2304.5,1725.5 2303.0,1727.8 2301.3,1730.1 2299.4,1732.3 2297.4,1734.5 2295.2,1736.7 2292.9,1738.7 2290.5,1740.7 2287.9,1742.7 2285.2,1744.6 2282.4,1746.4 2279.4,1748.2 2276.3,1749.8 2273.1,1751.4 2269.8,1753.0 2266.5,1754.4 2263.0,1755.7 2259.4,1757.0 2255.8,1758.2 2252.1,1759.3 2248.3,1760.3 2244.5,1761.2 2240.6,1762.0 2236.7,1762.7 2232.8,1763.3 2228.8,1763.8 2224.9,1764.2 2220.9,1764.5 2216.9,1764.7 2212.9,1764.8 2208.9,1764.8 2205.0,1764.7 2201.1,1764.5 2197.2,1764.2 2193.3,1763.8 2189.5,1763.3 2185.7,1762.7 2182.0,1761.9 2178.4,1761.1 2174.8,1760.2 2171.3,1759.3 2167.9,1758.2 2164.5,1757.0 2161.2,1755.7 2158.0,1754.4 2154.9,1752.9 2151.9,1751.4 2149.0,1749.8 2146.2,1748.1 2143.5,1746.4 2140.9,1744.6 2138.5,1742.7 2136.1,1740.7 2133.9,1738.7 2131.8,1736.6 2129.8,1734.5 2127.9,1732.3 2126.2,1730.1 2124.6,1727.8 2123.2,1725.5 2121.9,1723.2 2120.8,1720.8 2119.8,1718.4 2118.9,1715.9 2118.2,1713.5 2117.7,1711.0 2117.3,1708.5 2117.1,1706.0 2117.0,1703.5 2117.1,1701.0 2117.4,1698.5 2117.8,1696.1 2118.4,1693.6 2119.1,1691.1 2120.1,1688.7 2121.1,1686.3 2122.4,1683.9 2123.8,1681.6 2125.4,1679.3 2127.1,1677.0 2129.0,1674.8 2131.0,1672.6 2133.2,1670.5 2135.5,1668.5 2138.0,1666.5 2140.6,1664.5 2143.2,1662.6" fill="none" stroke="#b6c1ca" stroke-width="3.9" stroke-linecap="round" stroke-linejoin="round"/><polyline points="2143.2,1662.6 2146.0,1660.7 2148.8,1658.8 2151.8,1657.1 2154.8,1655.3 2158.0,1653.6 2161.3,1652.0 2164.6,1650.5 2168.1,1649.0" fill="none" stroke="#b6c1ca" stroke-width="3.315" stroke-linecap="round" stroke-linejoin="round"/><polyline points="2168.1,1649.0 2171.7,1647.6 2175.3,1646.2 2179.1,1645.0 2182.9,1643.8 2186.8,1642.7 2190.7,1641.7 2194.8,1640.7" fill="none" stroke="#b6c1ca" stroke-width="2.535" stroke-linecap="round" stroke-linejoin="round"/><polyline points="2194.8,1640.7 2198.9,1639.9 2203.0,1639.1 2207.2,1638.5 2211.5,1637.9 2215.8,1637.5 2220.1,1637.1 2224.5,1636.9" fill="none" stroke="#b6c1ca" stroke-width="1.56" stroke-linecap="round" stroke-linejoin="round"/>
<g fill="none" stroke="#b6c1ca" stroke-linecap="round" stroke-linejoin="round"><path d="M 1031 310 C 1050 325, 1070 336, 1090 334 C 1115 332, 1135 315, 1146 296" stroke-width="3.5"/><path d="M 1124 304 L 1146 296 L 1139 319" stroke-width="3.5"/><path d="M 1679 500 C 1660 540, 1610 566, 1566 565 C 1530 564, 1500 545, 1486 520" stroke-width="4.8"/><path d="M 1480 543 L 1486 520 L 1507 524" stroke-width="4.8"/><path d="M 2045 825 C 2060 832, 2075 836, 2090 834 C 2110 830, 2125 810, 2131 791" stroke-width="3.2"/><path d="M 2116 803 L 2131 791 L 2129 810" stroke-width="3.4"/><path d="M 1485 1264 C 1465 1248, 1445 1236, 1426 1236 C 1400 1236, 1380 1255, 1370 1273" stroke-width="3.7"/><path d="M 1379 1251 L 1370 1273 L 1392 1265" stroke-width="4.2"/><path d="M 2167 1649 C 2150 1625, 2130 1613, 2107 1613 C 2085 1613, 2065 1625, 2054 1638" stroke-width="3.5"/><path d="M 2068 1620 L 2054 1638 L 2077 1635" stroke-width="3.5"/></g>
<!-- photo 1: Ah Boys to Men -->
<g clip-path="url(#cp1)">
<rect x="1175" y="175" width="325" height="240" fill="#3c654b"/>
<rect x="1175" y="175" width="325" height="240" filter="url(#camo)"/>
<g filter="url(#bl1)">
<path d="M1175,175 L1500,175 L1500,262 L1440,262 L1432,228 L1398,192 L1362,215 L1340,228 L1310,222 L1262,218 L1230,205 L1175,210 Z" fill="#e2e9f4"/>
</g>
<g clip-path="url(#tr1)"><rect x="1215" y="212" width="50" height="70" filter="url(#leaf)"/></g>
<g clip-path="url(#tr2)"><rect x="1303" y="220" width="46" height="58" filter="url(#leaf)" opacity="0.85"/></g>
<g filter="url(#bl1)">
<rect x="1175" y="205" width="45" height="20" fill="#5a8a48"/>
<ellipse cx="1204" cy="236" rx="15" ry="23" fill="#b08068"/>
<path d="M1190,222 C1192,210 1215,208 1219,222 Z" fill="#4a3a30"/>
<ellipse cx="1190" cy="233" rx="6" ry="16" fill="#222"/>
<ellipse cx="1285.5" cy="257" rx="24.5" ry="34" fill="#c4947a"/>
<path d="M1261,252 C1259,225 1275,221 1286,221 C1300,221 1311,228 1310,252 C1303,240 1270,238 1261,252 Z" fill="#4e4036"/>
<rect x="1265" y="252" width="20" height="10" fill="none" stroke="#1a1a1a" stroke-width="1.8"/>
<rect x="1288" y="252" width="20" height="10" fill="none" stroke="#1a1a1a" stroke-width="1.8"/>
<ellipse cx="1355" cy="252" rx="12" ry="24" fill="#c8a088"/>
<ellipse cx="1315" cy="258" rx="6" ry="15" fill="#c09a80"/>
<ellipse cx="1396" cy="246" rx="34.5" ry="47" fill="#c8957e"/>
<path d="M1362,226 C1360,200 1380,193 1396,193 C1414,193 1432,200 1431,230 C1425,214 1410,208 1396,208 C1378,208 1366,214 1362,226 Z" fill="#6a5a50"/>
<ellipse cx="1432" cy="247" rx="6" ry="12" fill="#c08070"/>
<ellipse cx="1396" cy="272" rx="13" ry="3.5" fill="#a86a64" opacity="0.55"/>
<rect x="1378" y="282" width="38" height="22" fill="#b88468"/>
<path d="M1460,195 C1470,190 1478,195 1478,210 L1478,240 L1458,240 Z" fill="#b08070"/>
<path d="M1432,262 L1480,255 L1492,300 L1432,305 Z" fill="#3a6a48"/>
<path d="M1466,258 L1476,258 L1478,305 L1466,305 Z" fill="#1e2428"/>
<path d="M1315,292 C1330,288 1350,290 1360,300 L1360,332 L1315,332 Z" fill="#4c604a"/>
<path d="M1372,290 L1382,292 L1330,400 L1318,396 Z" fill="#1e2428"/>
<path d="M1296,406 L1338,368 L1356,370 L1354,404 Z" fill="#1a1a1e"/>
<path d="M1236,326 C1250,320 1285,320 1296,330 L1296,388 L1236,388 Z" fill="#9ab890" opacity="0.35"/>
<ellipse cx="1258" cy="362" rx="22" ry="13" fill="#d0a890"/>
<rect x="1304" y="316" width="20" height="28" fill="#a08a58" transform="rotate(18 1314 330)"/>
<path d="M1222,326 L1258,312 L1265,326 L1230,344 Z" fill="#25282e"/>
<path d="M1248,292 L1290,296 L1300,318 L1250,330 Z" fill="#4a6448" opacity="0.7"/>
<ellipse cx="1288" cy="298" rx="14" ry="8" fill="#b88a70"/>
</g>
</g>
<!-- photo 2: Long Long Time Ago -->
<g clip-path="url(#cp2)">
<rect x="2175" y="640" width="260" height="220" fill="#2e241c"/>
<g filter="url(#bl1)">
<rect x="2175" y="640" width="260" height="35" fill="#080706"/>
<rect x="2300" y="640" width="135" height="60" fill="#0c0a08"/>
<rect x="2207" y="672" width="70" height="65" fill="#4a3628"/>
<rect x="2366" y="690" width="65" height="75" fill="#3a2c22"/>
<circle cx="2403" cy="718" r="26" fill="#b4855a"/>
<rect x="2180" y="668" width="28" height="76" fill="#8cb0de"/>
<rect x="2184" y="668" width="2" height="76" fill="#5a88c8"/>
<rect x="2192" y="668" width="2" height="76" fill="#5a88c8"/>
<rect x="2200" y="668" width="2" height="76" fill="#5a88c8"/>
<rect x="2182" y="740" width="46" height="65" fill="#d4bc58"/>
<rect x="2227" y="740" width="42" height="78" fill="#b8bc86"/>
<rect x="2220" y="712" width="12" height="22" fill="#3a9aa8"/>
<rect x="2234" y="712" width="24" height="20" fill="#9a5a40"/>
<rect x="2335" y="760" width="45" height="70" fill="#2e2a26"/>
<ellipse cx="2297" cy="688" rx="24" ry="28" fill="#16120e"/>
<path d="M2274,700 C2272,715 2276,728 2282,735 L2286,700 Z" fill="#16120e"/>
<path d="M2310,700 L2320,740 C2325,730 2324,712 2320,698 Z" fill="#16120e"/>
<ellipse cx="2296" cy="708" rx="16" ry="21" fill="#c89a7e"/>
<ellipse cx="2295" cy="719" rx="5" ry="4" fill="#3a1a1a"/>
<path d="M2288,712 L2334,710 L2326,748 L2300,750 Z" fill="#c6987e"/>
<path d="M2280,722 L2270,724 L2262,742 L2264,782 L2272,802 L2285,800 L2283,760 L2287,735 Z" fill="#c08a6c"/>
<ellipse cx="2267" cy="750" rx="10" ry="14" fill="#c8957a"/>
<path d="M2334,713 L2355,718 L2372,740 L2385,770 L2379,783 L2360,781 L2346,777 L2318,773 L2316,758 L2340,760 L2364,766 L2353,745 L2340,736 Z" fill="#c08a6c"/>
<path d="M2288,714 L2298,714 L2304,738 L2322,741 L2330,712 L2340,716 L2350,745 L2358,780 L2358,822 L2285,822 L2286,770 L2283,740 Z" fill="#e8e6de"/>
<ellipse cx="2330" cy="766" rx="14" ry="10" fill="#c8957a"/>
<rect x="2283" y="818" width="73" height="35" fill="#5a6e80"/>
<ellipse cx="2220" cy="774" rx="19" ry="24" fill="#1a1410"/>
<ellipse cx="2225" cy="779" rx="15" ry="17" fill="#d6a888"/>
<path d="M2183,795 L2255,795 L2262,855 L2183,855 Z" fill="#ece0c0"/>
<ellipse cx="2369" cy="795" rx="12" ry="15" fill="#c09070"/>
<ellipse cx="2412" cy="780" rx="18" ry="17" fill="#bcbcb6"/>
<ellipse cx="2408" cy="795" rx="14" ry="14" fill="#c8987a"/>
<path d="M2378,812 L2430,805 L2432,850 L2378,850 Z" fill="#7fa3d8"/>
</g>
</g>
<!-- photo 3: 7 Letters -->
<g clip-path="url(#cp3)">
<rect x="1060" y="1130" width="270" height="250" fill="#5e5a58"/>
<g filter="url(#bl1)">
<rect x="1060" y="1130" width="105" height="165" fill="url(#lg3)"/>
<rect x="1088" y="1170" width="21" height="122" fill="#c8d0c6"/>
<rect x="1060" y="1215" width="28" height="80" fill="#6a6454" opacity="0.6"/>
<rect x="1160" y="1130" width="24" height="165" fill="#262a28"/>
<rect x="1183" y="1130" width="102" height="28" fill="#e8ecec"/>
<rect x="1174" y="1154" width="111" height="18" fill="#34403e"/>
<rect x="1243" y="1171" width="42" height="152" fill="#dde2de"/>
<rect x="1250" y="1215" width="35" height="30" fill="#b8c8c0"/>
<rect x="1284" y="1150" width="18" height="175" fill="#26302e"/>
<rect x="1301" y="1150" width="30" height="175" fill="#141816"/>
<path d="M1168,1262 C1162,1220 1175,1185 1200,1176 C1220,1170 1240,1174 1250,1190 L1250,1200 L1210,1205 L1202,1272 L1180,1278 Z" fill="#2a2420"/>
<path d="M1202,1200 C1215,1188 1245,1190 1256,1205 C1264,1220 1266,1240 1263,1258 C1262,1275 1255,1288 1238,1292 C1222,1294 1208,1288 1204,1272 C1199,1250 1198,1220 1202,1200 Z" fill="#8a5638"/>
<path d="M1225,1215 C1240,1210 1255,1215 1260,1235 L1250,1250 L1230,1245 Z" fill="#9e6646" opacity="0.8"/>
<ellipse cx="1189" cy="1249" rx="10" ry="19" fill="#6a3e2c"/>
<path d="M1198,1252 L1218,1256 L1218,1268 L1200,1266 Z" fill="#8a8078"/>
<path d="M1235,1260 C1245,1255 1258,1256 1263,1262 L1261,1270 C1252,1264 1244,1265 1236,1270 Z" fill="#2a2020"/>
<path d="M1202,1272 L1252,1276 L1252,1300 L1202,1300 Z" fill="#6a4030"/>
<path d="M1095,1306 C1120,1295 1150,1285 1168,1281 L1200,1282 L1215,1300 L1245,1296 L1290,1310 L1300,1330 L1300,1380 L1095,1380 Z" fill="#646268"/>
<path d="M1166,1282 L1200,1282 L1212,1312 L1185,1318 Z" fill="#7a7a80"/>
<path d="M1172,1336 C1210,1324 1260,1320 1306,1320 L1306,1338 C1260,1338 1215,1340 1188,1350 Z" fill="#1c1c1c"/>
<path d="M1060,1282 C1100,1300 1140,1330 1180,1350 C1210,1362 1240,1370 1260,1380 L1060,1380 Z" fill="#4a2414"/>
<path d="M1066,1288 C1085,1300 1105,1318 1120,1340 L1080,1345 L1066,1320 Z" fill="#7a4028"/>
</g>
<rect x="1060" y="1130" width="270" height="250" fill="url(#vig3)"/>
</g>
<!-- photo 4: The Offering -->
<g clip-path="url(#cp4)">
<rect x="1660" y="1510" width="380" height="150" fill="#7a8a84"/>
<g filter="url(#bl1)">
<rect x="1660" y="1510" width="92" height="125" fill="#8a5a44"/>
<rect x="1688" y="1530" width="3" height="100" fill="#a87a62"/>
<rect x="1722" y="1520" width="3" height="110" fill="#a87a62"/>
<rect x="1660" y="1572" width="90" height="3" fill="#a07058"/>
<rect x="1660" y="1589" width="90" height="3" fill="#a07058"/>
<rect x="1748" y="1510" width="108" height="120" fill="#62725f"/>
<rect x="1852" y="1510" width="130" height="120" fill="#cdcb97"/>
<rect x="1852" y="1590" width="130" height="40" fill="#bfbf8a"/>
<rect x="1862" y="1600" width="36" height="45" fill="#3a4038"/>
<circle cx="1884" cy="1594" r="3.5" fill="#f4ecd0"/>
<ellipse cx="1738" cy="1598" rx="7" ry="14" fill="#c0a880"/>
<path d="M1738,1582 C1734,1545 1755,1522 1790,1521 C1818,1522 1832,1540 1830,1565 C1829,1580 1826,1592 1822,1598 L1812,1582 C1790,1577 1765,1580 1752,1592 L1746,1612 Z" fill="#111111"/>
<path d="M1748,1592 C1762,1578 1800,1578 1822,1588 C1827,1606 1823,1626 1810,1640 L1762,1642 C1750,1630 1744,1610 1748,1592 Z" fill="#9c6a4a"/>
<ellipse cx="1745" cy="1603" rx="6" ry="12" fill="#7e5038"/>
<rect x="1768" y="1597" width="14" height="3" fill="#2a1a12"/>
<rect x="1796" y="1596" width="14" height="3" fill="#2a1a12"/>
<path d="M1735,1628 L1770,1624 L1792,1638 L1860,1644 L1860,1662 L1735,1662 Z" fill="#181816"/>
<path d="M1700,1628 C1730,1624 1760,1630 1784,1650 L1784,1662 L1700,1662 Z" fill="#4a8e96"/>
<path d="M1820,1646 C1900,1642 1960,1632 2040,1560 L2040,1662 L1820,1662 Z" fill="#6a7c82"/>
</g>
</g>
<text x="1226.0" y="460.0" font-size="32" fill="#505050" stroke="#505050" stroke-width="0.75" font-style="italic" textLength="223.5" lengthAdjust="spacingAndGlyphs">Ah Boys to Men</text><text x="1274" y="505" font-size="32" fill="#505050" stroke="#505050" stroke-width="0.75" textLength="132" lengthAdjust="spacingAndGlyphs"><tspan font-style="italic">1, 2 </tspan>and<tspan font-style="italic"> 3</tspan></text><text x="1245.0" y="549.7" font-size="32" fill="#505050" stroke="#505050" stroke-width="0.75" textLength="186.0" lengthAdjust="spacingAndGlyphs">dir. Jack Neo</text><text x="1922.5" y="651.4" font-size="32" fill="#505050" stroke="#505050" stroke-width="0.75" font-style="italic" textLength="290.0" lengthAdjust="spacingAndGlyphs">Long Long Time Ago</text><text x="1973.0" y="695.2" font-size="32" fill="#505050" stroke="#505050" stroke-width="0.75" textLength="186.5" lengthAdjust="spacingAndGlyphs">dir. Jack Neo</text><text x="1314.5" y="1384.7" font-size="32" fill="#505050" stroke="#505050" stroke-width="0.75" font-style="italic" textLength="123.0" lengthAdjust="spacingAndGlyphs">7 Letters</text><text x="1011.5" y="1429.7" font-size="32" fill="#505050" stroke="#505050" stroke-width="0.75" textLength="725.0" lengthAdjust="spacingAndGlyphs">dir. Eric Khoo, Boo Junfeng, Jack Neo, Kelvin Tong,</text><text x="1106.0" y="1474.5" font-size="32" fill="#505050" stroke="#505050" stroke-width="0.75" textLength="537.5" lengthAdjust="spacingAndGlyphs">K.Rajagopal, Tan Pin Pin, Royston Tan</text><text x="1783.5" y="1686.4" font-size="32" fill="#505050" stroke="#505050" stroke-width="0.75" font-style="italic" textLength="180.5" lengthAdjust="spacingAndGlyphs">The Offering</text><text x="1762.5" y="1730.0" font-size="32" fill="#505050" stroke="#505050" stroke-width="0.75" textLength="221.0" lengthAdjust="spacingAndGlyphs">dir. Kelvin Tong</text>
</svg>
</body></html>
